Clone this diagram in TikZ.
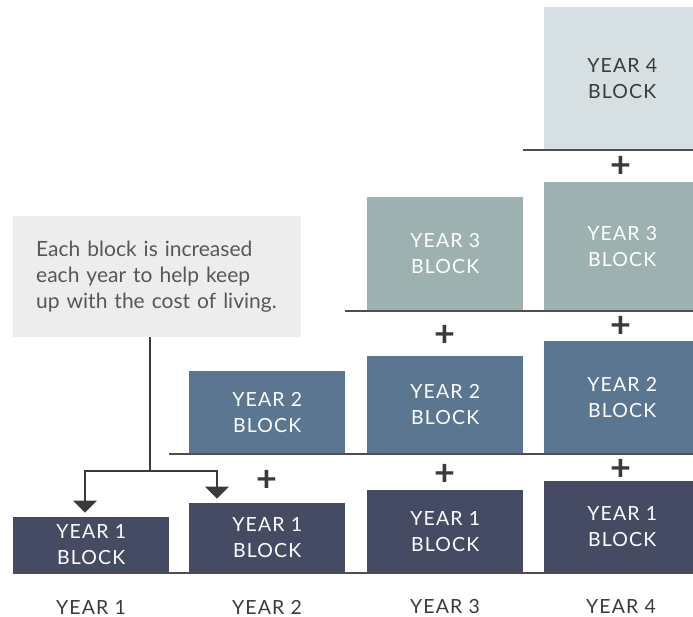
\documentclass[tikz,border=0pt]{standalone}
\usepackage{fontspec}
\setmainfont{Lato}
\newfontfamily\spacedfont[LetterSpace=6]{Lato}
\usetikzlibrary{arrows.meta, positioning}
\definecolor{yrone}{HTML}{454B63}
\definecolor{yrtwo}{HTML}{5B7690}
\definecolor{yrthree}{HTML}{9DB1B0}
\definecolor{yrfour}{HTML}{D6DFE2}
\definecolor{notegray}{HTML}{EDEDED}
\definecolor{inkgray}{HTML}{3A3A3A}
\tikzstyle{block} = [rectangle, anchor=south west, minimum width=156pt, inner sep=0pt, align=center, text=white, font=\spacedfont\fontsize{19.5}{26}\selectfont]
\tikzstyle{plus} = [text=inkgray, inner sep=0pt, font=\fontsize{36}{36}\selectfont\bfseries]
\tikzstyle{yearlbl} = [text=inkgray, font=\spacedfont\fontsize{19.5}{22}\selectfont]
\tikzstyle{base} = [draw=inkgray!90, line width=1.6pt]
\tikzstyle{link} = [draw=inkgray, line width=1.2pt]

\begin{document}
\begin{tikzpicture}[x=1pt, y=-1pt, >={Triangle[width=24pt,length=12pt]}]
    \useasboundingbox (0,0) rectangle (693,617);
    % year 1 blocks
    \node[block, fill=yrone, minimum height=56pt] (one-a) at (13,573) {YEAR 1\\BLOCK};
    \node[block, fill=yrone, minimum height=70pt] (one-b) at (189,573) {YEAR 1\\BLOCK};
    \node[block, fill=yrone, minimum height=83pt] (one-c) at (367,573) {YEAR 1\\BLOCK};
    \node[block, fill=yrone, minimum height=92pt] (one-d) at (544,573) {YEAR 1\\BLOCK};
    % year 2 blocks
    \node[block, fill=yrtwo, minimum height=83pt] (two-b) at (189,454) {YEAR 2\\BLOCK};
    \node[block, fill=yrtwo, minimum height=98pt] (two-c) at (367,454) {YEAR 2\\BLOCK};
    \node[block, fill=yrtwo, minimum height=113pt] (two-d) at (544,454) {YEAR 2\\BLOCK};
    % year 3 blocks
    \node[block, fill=yrthree, minimum height=114pt] (three-c) at (367,311) {YEAR 3\\BLOCK};
    \node[block, fill=yrthree, minimum height=129pt] (three-d) at (544,311) {YEAR 3\\BLOCK};
    % year 4 block
    \node[block, fill=yrfour, text=inkgray, minimum height=143pt] (four-d) at (544,150) {YEAR 4\\BLOCK};

    \draw[base] (one-a.south west) -- (one-d.south east);
    \draw[base] (one-a.east |- two-b.south) -- (two-d.south east);
    \draw[base] (two-b.east |- three-c.south) -- (three-d.south east);
    \draw[base] (three-c.east |- four-d.south) -- (four-d.south east);

    \node[plus] (plus-b1) at (267,481) {+};
    \node[plus] (plus-c1) at (445,475) {+};
    \node[plus] (plus-c2) at (445,336) {+};
    \node[plus] (plus-d1) at (621,470) {+};
    \node[plus] (plus-d2) at (621,327) {+};
    \node[plus] (plus-d3) at (621,167) {+};

    \node[yearlbl] (yr1) at (91,607) {YEAR 1};
    \node[yearlbl] (yr2) at (267,607) {YEAR 2};
    \node[yearlbl] (yr3) at (445,607) {YEAR 3};
    \node[yearlbl] (yr4) at (621,607) {YEAR 4};

    \node[fill=notegray, anchor=north west, text width=242pt, inner xsep=23pt, minimum height=121pt, align=left, text=inkgray!85, font=\fontsize{21}{26}\selectfont] (note) at (13,216) {Each block is increased\\each year to help keep\\up with the cost of living.};
    \coordinate (fork) at (150,471);
    \draw[link] (note.south -| fork) -- (fork);
    \draw[link, ->] (fork) -| ([xshift=72pt,yshift=4pt]one-a.north west);
    \draw[link, ->] (fork) -| ([xshift=28pt,yshift=4pt]one-b.north west);
\end{tikzpicture}
\end{document}
